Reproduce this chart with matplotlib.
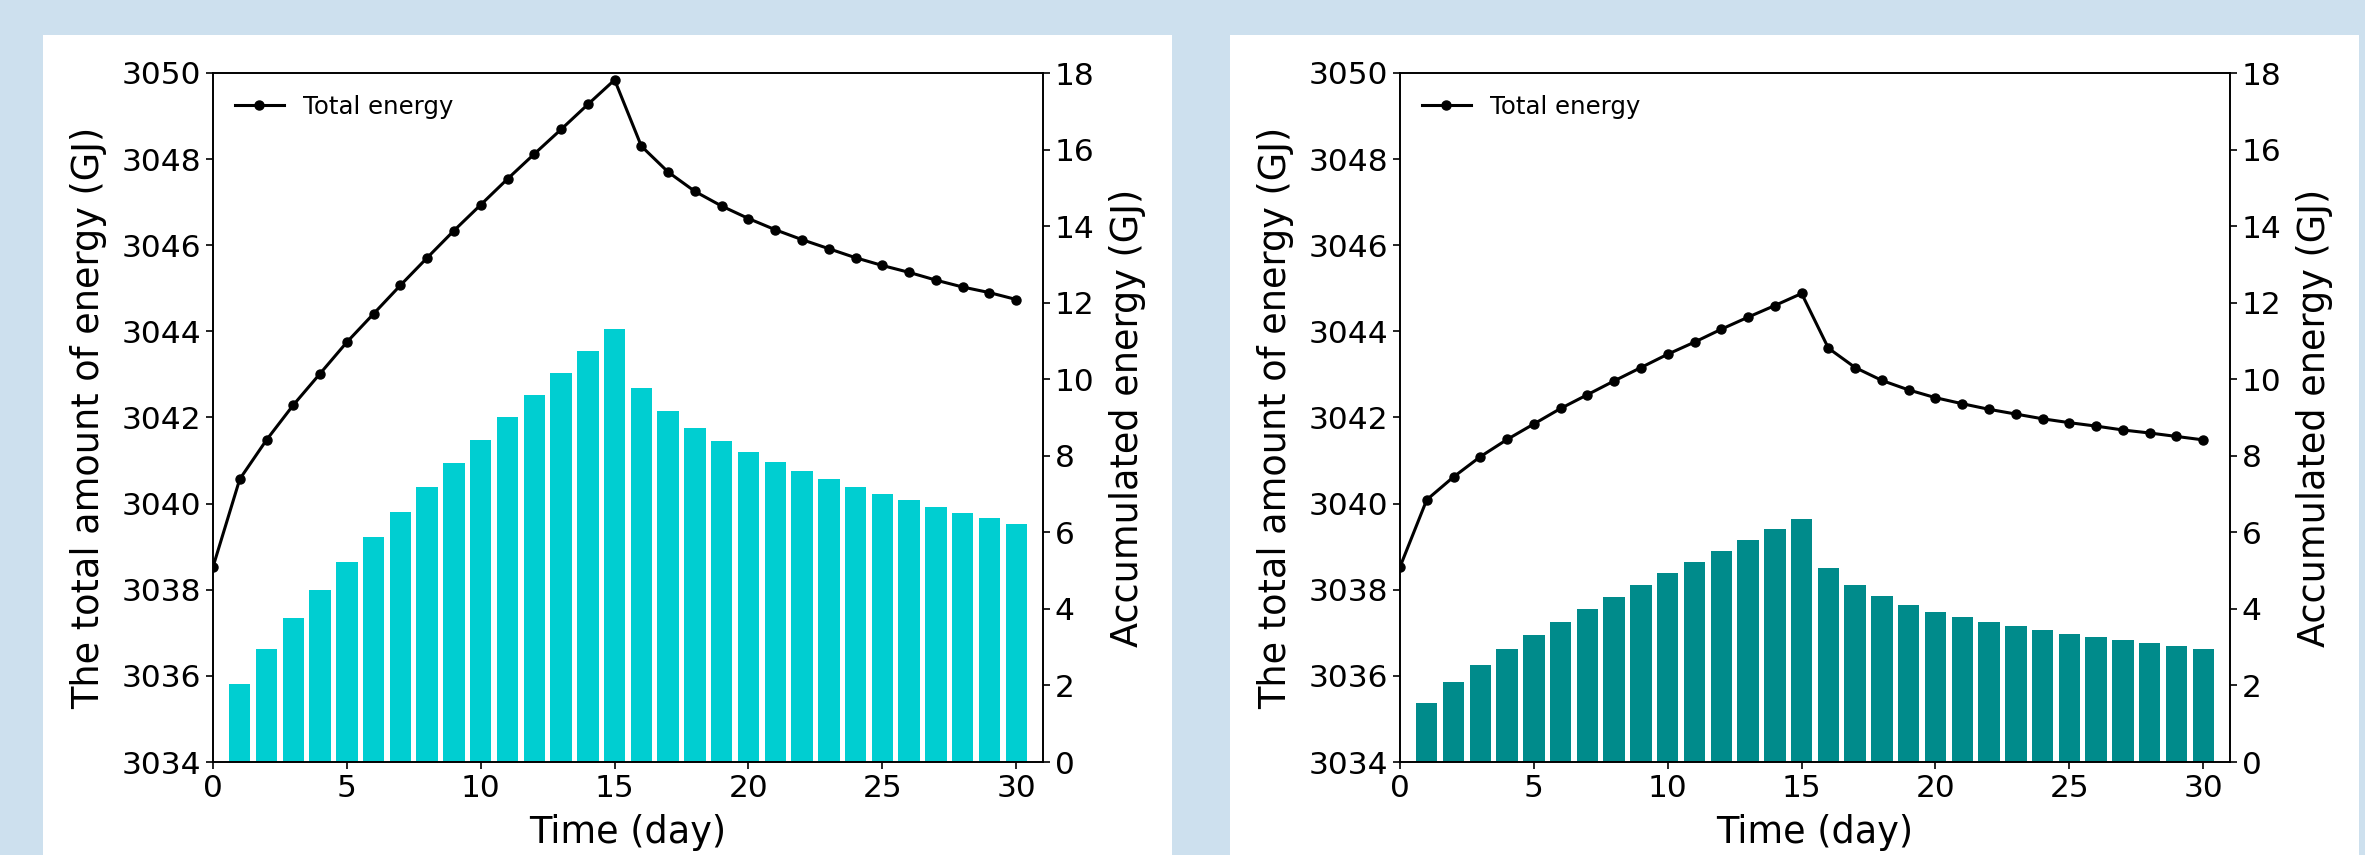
"""Total energy and accumulated energy over 30 days, two cases side by side."""
import matplotlib
matplotlib.use("Agg")
import matplotlib.pyplot as plt
from matplotlib.patches import Rectangle

W, H, DPI = 2365, 855, 100

days = list(range(31))
bar_days = days[1:]

total_a = [3038.53, 3040.57, 3041.48, 3042.29, 3043.02, 3043.75, 3044.41, 3045.07,
           3045.71, 3046.34, 3046.94, 3047.54, 3048.12, 3048.69, 3049.27, 3049.84,
           3048.30, 3047.70, 3047.25, 3046.91, 3046.62, 3046.36, 3046.13, 3045.92,
           3045.71, 3045.53, 3045.37, 3045.19, 3045.03, 3044.90, 3044.74]
accum_a = [2.04, 2.95, 3.76, 4.49, 5.22, 5.88, 6.53, 7.18, 7.81, 8.41, 9.01, 9.59,
           10.16, 10.74, 11.31, 9.77, 9.17, 8.72, 8.38, 8.09, 7.83, 7.60, 7.39, 7.18,
           7.00, 6.84, 6.66, 6.50, 6.37, 6.21]

total_b = [3038.53, 3040.09, 3040.62, 3041.09, 3041.49, 3041.85, 3042.21, 3042.53,
           3042.85, 3043.16, 3043.47, 3043.75, 3044.05, 3044.33, 3044.60, 3044.88,
           3043.61, 3043.16, 3042.86, 3042.64, 3042.46, 3042.32, 3042.19, 3042.08,
           3041.97, 3041.88, 3041.80, 3041.71, 3041.64, 3041.56, 3041.48]
accum_b = [1.55, 2.08, 2.53, 2.94, 3.31, 3.65, 3.99, 4.30, 4.62, 4.93, 5.22, 5.51,
           5.79, 6.08, 6.34, 5.06, 4.62, 4.33, 4.10, 3.91, 3.78, 3.65, 3.55, 3.44,
           3.34, 3.26, 3.18, 3.10, 3.03, 2.95]

plt.rcParams.update({
    "axes.linewidth": 1.2,
    "xtick.major.width": 1.2, "ytick.major.width": 1.2,
    "xtick.major.size": 5, "ytick.major.size": 5,
    "xtick.labelsize": 22.5, "ytick.labelsize": 22.5,
})


def panel(fig, x0, total, accum, color):
    # white card behind each chart
    fig.add_artist(Rectangle((x0 / W, 0), 1129 / W, (H - 35) / H,
                             transform=fig.transFigure, facecolor="white",
                             edgecolor="none", zorder=-1))
    ax = fig.add_axes([(x0 + 170) / W, 93 / H, 830 / W, 689 / H])
    ax2 = ax.twinx()
    ax2.bar(bar_days, accum, width=0.8, color=color)
    ax.plot(days, total, color="black", marker="o", markersize=6.5,
            linewidth=2.2, label="Total energy")
    ax.set_zorder(ax2.get_zorder() + 1)
    ax.patch.set_visible(False)

    ax.set_xlim(0, 31)
    ax.set_xticks(range(0, 31, 5))
    ax.set_ylim(3034, 3050)
    ax.set_yticks(range(3034, 3051, 2))
    ax2.set_ylim(0, 18)
    ax2.set_yticks(range(0, 19, 2))
    ax.set_xlabel("Time (day)", fontsize=26.4, labelpad=8)
    ax.set_ylabel("The total amount of energy (GJ)", fontsize=26.4, labelpad=10)
    ax2.set_ylabel("Accumulated energy (GJ)", fontsize=26.4, labelpad=10)
    ax.legend(loc="upper left", frameon=False, fontsize=17.6)


def main():
    fig = plt.figure(figsize=(W / DPI, H / DPI), dpi=DPI, facecolor="#cde0ee")
    panel(fig, 43, total_a, accum_a, "#00CED1")
    panel(fig, 1230, total_b, accum_b, "#008B8B")
    fig.savefig("out.png", dpi=DPI, facecolor=fig.get_facecolor())
    plt.close(fig)


if __name__ == "__main__":
    main()
